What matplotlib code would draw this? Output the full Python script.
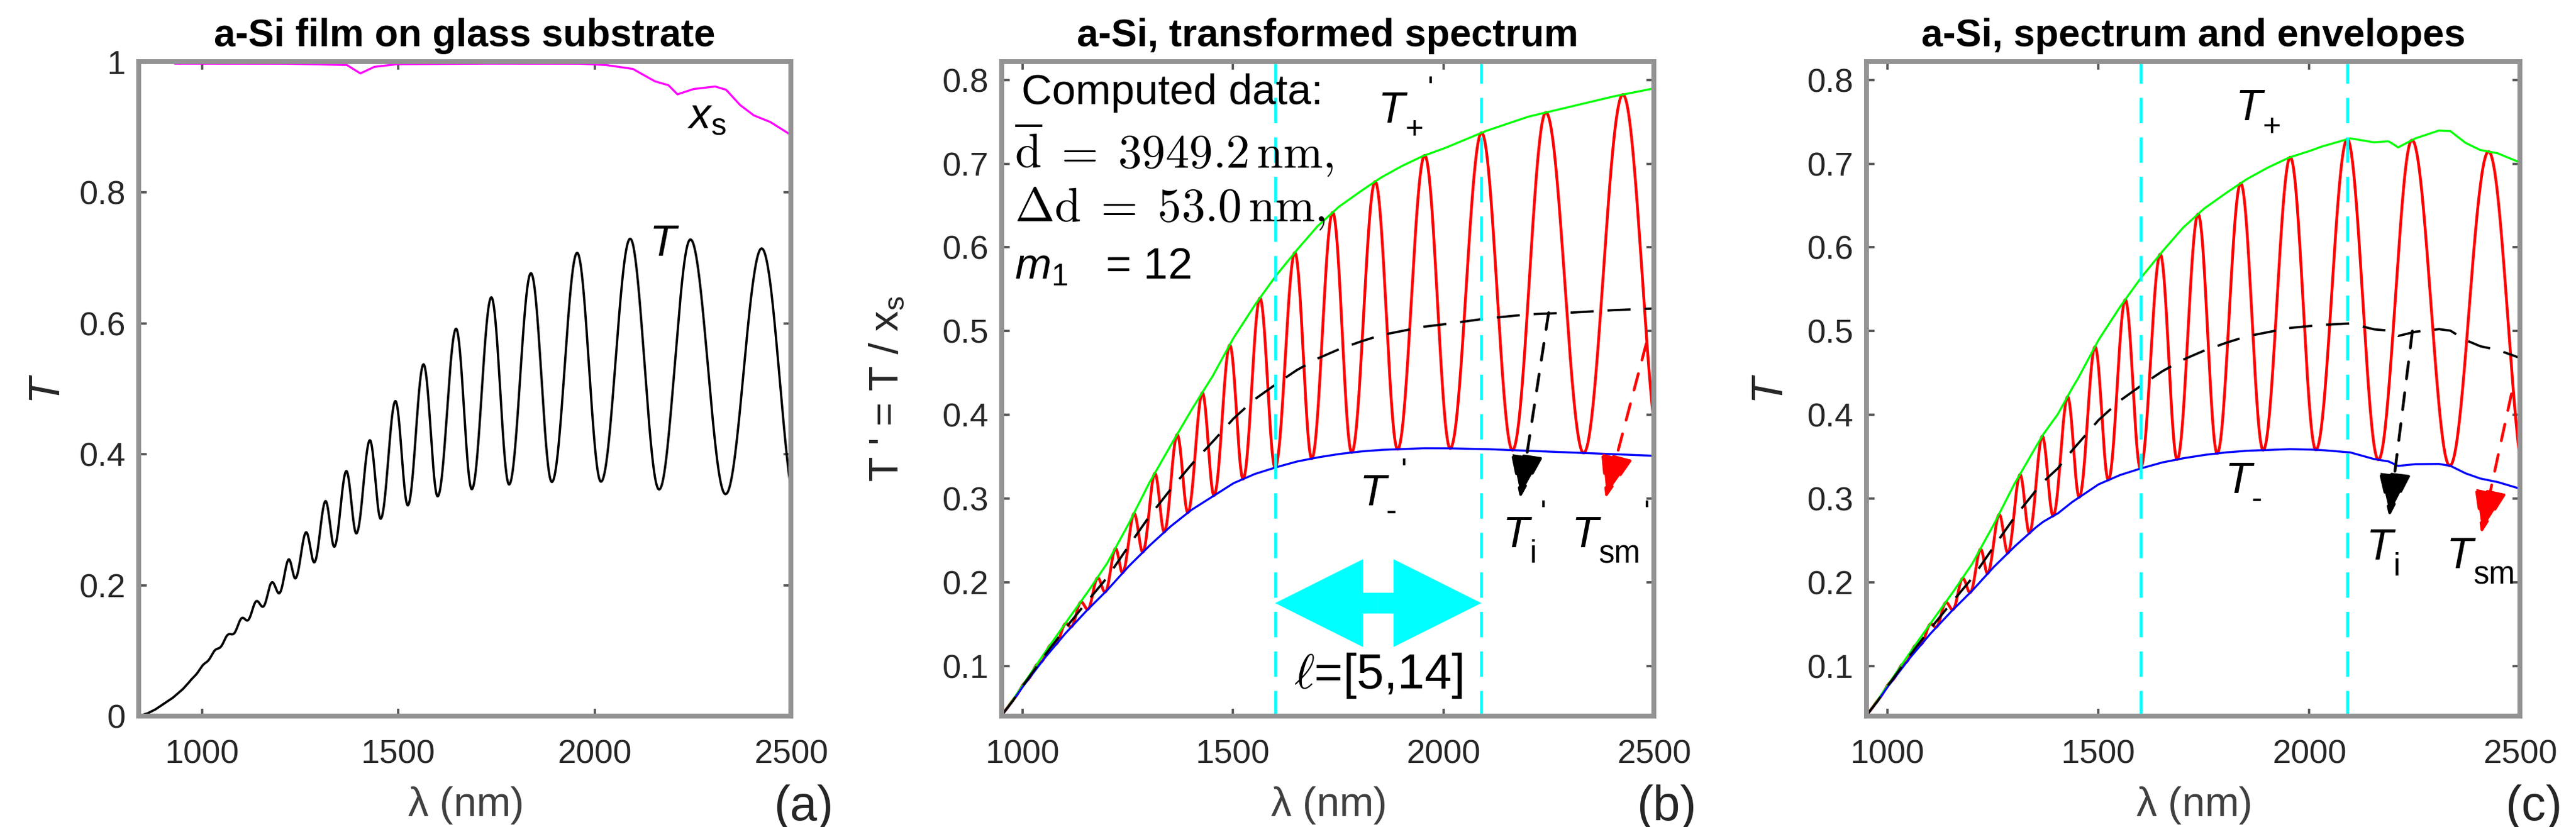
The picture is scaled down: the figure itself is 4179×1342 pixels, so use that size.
import numpy as np
import matplotlib
matplotlib.use("Agg")
import matplotlib.pyplot as plt
from matplotlib.patches import FancyArrowPatch

plt.rcParams["font.family"] = ["Liberation Sans", "DejaVu Sans"]
plt.rcParams["mathtext.fontset"] = "custom"
plt.rcParams["mathtext.rm"] = "Liberation Sans"
plt.rcParams["mathtext.it"] = "Liberation Sans:italic"
plt.rcParams["mathtext.bf"] = "Liberation Sans:bold"

# ---------------------------------------------------------------- data
# wavelengths of the fringe extrema (alternating max / min, first one a max)
ext_lam = [943, 957, 971, 985, 1000, 1015, 1031, 1047, 1063, 1081, 1099,
           1117, 1136, 1156, 1176, 1197, 1219, 1238, 1263, 1286, 1313,
           1337, 1366, 1393, 1426, 1455, 1491, 1524, 1563, 1600, 1646,
           1687, 1736, 1782, 1837, 1891, 1955, 2016, 2090, 2164, 2243,
           2333, 2426, 2518]

# envelopes of the transformed spectrum T' (panel b), read on a common grid
env_lam = [838, 860, 880, 900, 925, 950, 975, 1000, 1050, 1100, 1150, 1200,
           1250, 1300, 1350, 1400, 1450, 1500, 1550, 1600, 1650, 1700, 1750,
           1800, 1850, 1900, 1950, 2000, 2100, 2200, 2300, 2400, 2500]
tplus_p = [0.000, 0.004, 0.010, 0.018, 0.028, 0.041, 0.058, 0.077, 0.114,
           0.150, 0.185, 0.222, 0.268, 0.318, 0.362, 0.405, 0.445, 0.491,
           0.530, 0.565, 0.596, 0.625, 0.648, 0.666, 0.683, 0.697, 0.709,
           0.718, 0.739, 0.756, 0.768, 0.780, 0.790]
tminus_p = [0.000, 0.004, 0.010, 0.018, 0.028, 0.041, 0.057, 0.075, 0.108,
            0.138, 0.165, 0.190, 0.218, 0.243, 0.266, 0.286, 0.302, 0.318,
            0.329, 0.337, 0.344, 0.349, 0.353, 0.356, 0.358, 0.359, 0.360,
            0.360, 0.359, 0.357, 0.355, 0.353, 0.351]
ti_p = [0.000, 0.004, 0.010, 0.018, 0.028, 0.041, 0.057, 0.076, 0.111,
        0.144, 0.175, 0.205, 0.242, 0.278, 0.310, 0.340, 0.367, 0.395,
        0.418, 0.436, 0.453, 0.467, 0.478, 0.487, 0.495, 0.500, 0.505,
        0.508, 0.515, 0.520, 0.522, 0.525, 0.527]

# substrate transmittance ratio x_s (panel a, magenta)
xs_lam = [931, 1000, 1200, 1368, 1403, 1438, 1494, 1700, 1957, 2027, 2097,
          2153, 2188, 2211, 2251, 2307, 2335, 2370, 2405, 2447, 2500]
xs_val = [0.997, 0.997, 0.997, 0.995, 0.982, 0.992, 0.996, 0.997, 0.997,
          0.995, 0.989, 0.970, 0.964, 0.950, 0.958, 0.962, 0.957, 0.934,
          0.918, 0.908, 0.888]

win_lam = [1600, 2090]          # selected window, l = [5, 14]

# ---------------------------------------------------------------- curves
lam = np.linspace(838, 2500, 5000)
tp = np.interp(lam, env_lam, tplus_p)
tm = np.interp(lam, env_lam, tminus_p)
ti = np.interp(lam, env_lam, ti_p)
xs = np.interp(lam, xs_lam, xs_val)
phase = np.interp(lam, ext_lam, np.pi * np.arange(len(ext_lam)))
t_prime = (tp + tm) / 2 + (tp - tm) / 2 * np.cos(phase)
t_meas = t_prime * xs
xs_mask = lam >= xs_lam[0]

# ---------------------------------------------------------------- figure
W, H = 4179, 1342
fig = plt.figure(figsize=(W / 300, H / 300), dpi=300)


def px_axes(x0, x1, y0, y1):
    return fig.add_axes([x0 / W, 1 - y1 / H, (x1 - x0) / W, (y1 - y0) / H])


ax_a = px_axes(225, 1283, 100, 1162)
ax_b = px_axes(1625, 2683, 100, 1162)
ax_c = px_axes(3028, 4088, 100, 1162)

SPINE = "#939393"
TXT = "#262626"
for ax in (ax_a, ax_b, ax_c):
    for s in ax.spines.values():
        s.set_color(SPINE)
        s.set_linewidth(1.9)
    ax.tick_params(direction="in", length=3, width=0.9, color="#555555",
                   labelsize=13, labelcolor=TXT, top=True, right=True)
    ax.tick_params(axis="x", pad=9)
    ax.tick_params(axis="y", pad=5)
    ax.set_xlabel(r"$\mathrm{\lambda}$ (nm)", fontsize=16, color="#404040", labelpad=6)


def label(ax, x, y, sub, prime_dx=None, size=17):
    """Italic T with an upright subscript and an optional prime after it."""
    ax.text(x, y, "T", fontsize=size, ha="left", va="center", fontstyle="italic")
    ax.annotate(sub, xy=(x, y), xytext=(size * 0.62, -size * 0.42),
                textcoords="offset points", fontsize=size * 0.72,
                ha="left", va="center")
    if prime_dx is not None:
        ax.annotate("'", xy=(x, y), xytext=(prime_dx, size * 0.5),
                    textcoords="offset points", fontsize=size * 0.72,
                    ha="left", va="center")


# ---- panel a
ax_a.plot(lam, t_meas, color="k", lw=0.9)
ax_a.plot(lam[xs_mask], xs[xs_mask], color="#ff00ff", lw=0.8)
ax_a.set_xlim(838, 2500)
ax_a.set_ylim(0, 1)
ax_a.set_xticks([1000, 1500, 2000, 2500])
ax_a.set_yticks([0, 0.2, 0.4, 0.6, 0.8, 1])
ax_a.set_yticklabels(["0", "0.2", "0.4", "0.6", "0.8", "1"])
ax_a.set_ylabel(r"$T$", fontsize=17, color=TXT, labelpad=4)
ax_a.set_title("a-Si film on glass substrate", fontsize=15, fontweight="bold", pad=6)
ax_a.text(2178, 0.72, r"$T$", fontsize=17, ha="center", va="center")
ax_a.text(2285, 0.915, r"$x_{\rm s}$", fontsize=17, ha="center", va="center")


def envelope_panel(ax, scale):
    ax.plot(lam, t_prime * scale, color="#ff0000", lw=1.1)
    ax.plot(lam, tp * scale, color="#00ff00", lw=0.8)
    ax.plot(lam, tm * scale, color="#0000ff", lw=0.8)
    ax.plot(lam, ti * scale, color="k", lw=0.9, dashes=(10, 6))
    for xv in win_lam:
        ax.axvline(xv, color="#00ffff", lw=1.1, dashes=(9, 5))
    ax.set_xlim(950, 2500)
    ax.set_ylim(0.04, 0.822)
    ax.set_xticks([1000, 1500, 2000, 2500])
    ax.set_yticks([0.1, 0.2, 0.3, 0.4, 0.5, 0.6, 0.7, 0.8])


def dashed_arrow(ax, start, tip, color):
    ax.annotate("", xy=tip, xytext=start,
                arrowprops=dict(arrowstyle="-|>,head_length=1.5,head_width=0.55",
                                color=color, lw=1.1, linestyle=(0, (6, 5)),
                                shrinkA=0, shrinkB=0))


# ---- panel b
envelope_panel(ax_b, 1.0)
label(ax_b, 1845, 0.762, "+", prime_dx=19)
label(ax_b, 1800, 0.305, "-", prime_dx=16)
label(ax_b, 2140, 0.255, "i", prime_dx=14.5)
label(ax_b, 2305, 0.255, "sm", prime_dx=28)
dashed_arrow(ax_b, (2250, 0.522), (2182, 0.300), "k")
dashed_arrow(ax_b, (2482, 0.485), (2385, 0.300), "#ff0000")
mid = 0.5 * (win_lam[0] + win_lam[1])
for end in win_lam:
    ax_b.add_patch(FancyArrowPatch((mid, 0.175), (end, 0.175),
                                   arrowstyle="simple,head_length=1.9,head_width=1.9,tail_width=0.45",
                                   mutation_scale=18, color="#00ffff", lw=0,
                                   shrinkA=0, shrinkB=0))
ax_b.text(mid, 0.088, r"$\ell$=[5,14]", fontsize=19, ha="center", va="center",
          math_fontfamily="cm")
ax_b.text(0.03, 0.952, "Computed data:", transform=ax_b.transAxes,
          fontsize=16.5, ha="left", va="center")
ax_b.text(0.02, 0.865, r"$\overline{\mathrm{d}}\;=\;3949.2\,\mathrm{nm},$",
          transform=ax_b.transAxes, fontsize=18.5, ha="left", va="center",
          math_fontfamily="cm")
ax_b.text(0.02, 0.775, r"$\Delta\mathrm{d}\;=\;53.0\,\mathrm{nm},$",
          transform=ax_b.transAxes, fontsize=18.5, ha="left", va="center",
          math_fontfamily="cm")
ax_b.text(0.02, 0.685, r"$m_{1}$   = 12", transform=ax_b.transAxes,
          fontsize=17, ha="left", va="center")
ax_b.set_ylabel(r"T ' = T / x$_{\rm s}$", fontsize=16, color=TXT, labelpad=14)
ax_b.set_title("a-Si, transformed spectrum", fontsize=15, fontweight="bold", pad=6)

# ---- panel c
envelope_panel(ax_c, xs)
label(ax_c, 1825, 0.765, "+")
label(ax_c, 1800, 0.32, "-")
label(ax_c, 2135, 0.24, "i")
label(ax_c, 2325, 0.23, "sm")
dashed_arrow(ax_c, (2245, 0.50), (2190, 0.278), "k")
dashed_arrow(ax_c, (2480, 0.425), (2408, 0.258), "#ff0000")
ax_c.set_ylabel(r"$T$", fontsize=17, color=TXT, labelpad=6)
ax_c.set_title("a-Si, spectrum and envelopes", fontsize=15, fontweight="bold", pad=6)

for ax, lab in ((ax_a, "(a)"), (ax_b, "(b)"), (ax_c, "(c)")):
    ax.text(1.065, -0.14, lab, transform=ax.transAxes, fontsize=19,
            ha="right", va="center", color=TXT)

fig.savefig("out.png", dpi=300)
